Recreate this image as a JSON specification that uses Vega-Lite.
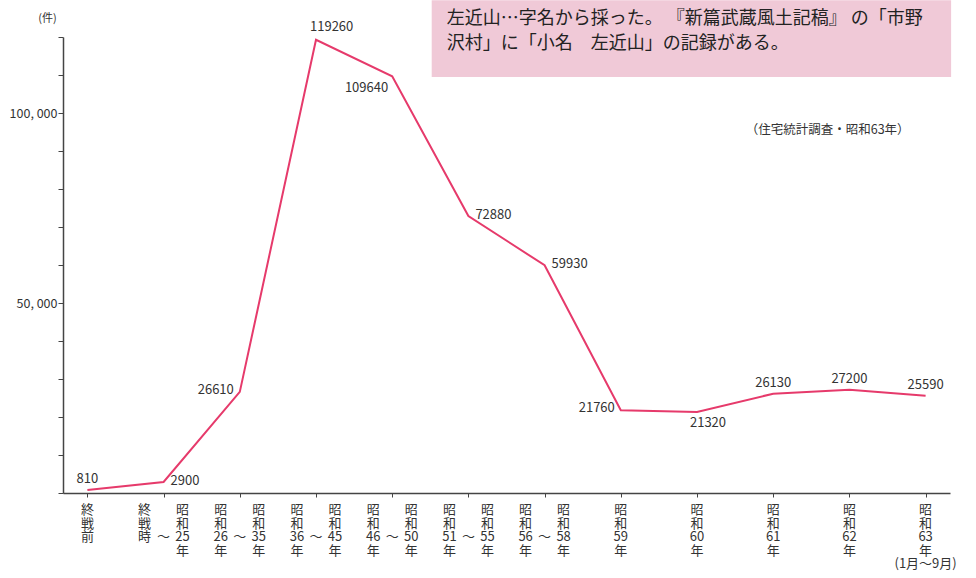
{
  "$schema": "https://vega.github.io/schema/vega-lite/v6.json",
  "autosize": {"type": "none"},
  "padding": {"left": 63, "top": 37, "right": 26, "bottom": 85},
  "width": 887,
  "height": 456,
  "background": "white",
  "config": {
    "view": {"stroke": null},
    "font": "Noto Sans CJK JP",
    "axisY": {
      "titleFontSize": 11,
      "titleFontWeight": "normal",
      "titleColor": "#333",
      "labelFontSize": 12.5,
      "labelColor": "#333",
      "labelPadding": 1,
      "tickSize": 5,
      "tickColor": "#444",
      "domainColor": "#444",
      "domainWidth": 1.5,
      "grid": false
    }
  },
  "data": {
    "values": [
      {"period": "終戦前", "count": 810, "label": "810", "center": ["終", "戦", "前"]},
      {"period": "終戦時〜昭和25年", "count": 2900, "label": "2900", "left": ["終", "戦", "時"], "right": ["昭", "和", "25", "年"]},
      {"period": "昭和26年〜昭和35年", "count": 26610, "label": "26610", "left": ["昭", "和", "26", "年"], "right": ["昭", "和", "35", "年"]},
      {"period": "昭和36年〜昭和45年", "count": 119260, "label": "119260", "left": ["昭", "和", "36", "年"], "right": ["昭", "和", "45", "年"]},
      {"period": "昭和46年〜昭和50年", "count": 109640, "label": "109640", "left": ["昭", "和", "46", "年"], "right": ["昭", "和", "50", "年"]},
      {"period": "昭和51年〜昭和55年", "count": 72880, "label": "72880", "left": ["昭", "和", "51", "年"], "right": ["昭", "和", "55", "年"]},
      {"period": "昭和56年〜昭和58年", "count": 59930, "label": "59930", "left": ["昭", "和", "56", "年"], "right": ["昭", "和", "58", "年"]},
      {"period": "昭和59年", "count": 21760, "label": "21760", "center": ["昭", "和", "59", "年"]},
      {"period": "昭和60年", "count": 21320, "label": "21320", "center": ["昭", "和", "60", "年"]},
      {"period": "昭和61年", "count": 26130, "label": "26130", "center": ["昭", "和", "61", "年"]},
      {"period": "昭和62年", "count": 27200, "label": "27200", "center": ["昭", "和", "62", "年"]},
      {"period": "昭和63年", "count": 25590, "label": "25590", "center": ["昭", "和", "63", "年", "(1月〜9月)"]}
    ]
  },
  "encoding": {
    "x": {
      "field": "period",
      "type": "nominal",
      "sort": null,
      "scale": {"type": "point", "padding": 0.32},
      "axis": {
        "title": null,
        "labels": false,
        "tickSize": 4,
        "tickColor": "#444",
        "domainColor": "#444",
        "domainWidth": 1.5,
        "grid": false
      }
    },
    "y": {
      "field": "count",
      "type": "quantitative",
      "scale": {"domain": [0, 120000], "nice": false},
      "axis": {
        "title": "(件)",
        "titleAngle": 0,
        "titleAlign": "center",
        "titleBaseline": "middle",
        "titleX": -16,
        "titleY": -19,
        "values": [0, 10000, 20000, 30000, 40000, 50000, 60000, 70000, 80000, 90000, 100000, 110000, 120000],
        "labelExpr": "datum.value == 50000 ? '50, 000' : datum.value == 100000 ? '100, 000' : ''",
        "labelOverlap": false
      }
    }
  },
  "layer": [
    {
      "mark": {"type": "line", "color": "#e63a6b", "strokeWidth": 2}
    },
    {
      "transform": [{"filter": "indexof(['810','26130','27200','25590'], datum.label) >= 0"}],
      "mark": {"type": "text", "align": "center", "baseline": "middle", "dy": -11, "fontSize": 13, "color": "#333"},
      "encoding": {"text": {"field": "label"}}
    },
    {
      "transform": [{"filter": "indexof(['2900','72880','59930'], datum.label) >= 0"}],
      "mark": {"type": "text", "align": "left", "baseline": "middle", "dx": 7, "dy": -1, "fontSize": 13, "color": "#333"},
      "encoding": {"text": {"field": "label"}}
    },
    {
      "transform": [{"filter": "indexof(['26610','21760'], datum.label) >= 0"}],
      "mark": {"type": "text", "align": "right", "baseline": "middle", "dx": -6, "dy": -2, "fontSize": 13, "color": "#333"},
      "encoding": {"text": {"field": "label"}}
    },
    {
      "transform": [{"filter": "datum.label == '119260'"}],
      "mark": {"type": "text", "align": "left", "baseline": "middle", "dx": -6, "dy": -13, "fontSize": 13, "color": "#333"},
      "encoding": {"text": {"field": "label"}}
    },
    {
      "transform": [{"filter": "datum.label == '109640'"}],
      "mark": {"type": "text", "align": "right", "baseline": "middle", "dx": -4, "dy": 12, "fontSize": 13, "color": "#333"},
      "encoding": {"text": {"field": "label"}}
    },
    {
      "transform": [{"filter": "datum.label == '21320'"}],
      "mark": {"type": "text", "align": "center", "baseline": "middle", "dx": 11, "dy": 11, "fontSize": 13, "color": "#333"},
      "encoding": {"text": {"field": "label"}}
    },
    {
      "transform": [{"filter": "isValid(datum.center)"}],
      "mark": {"type": "text", "align": "center", "baseline": "top", "dy": 11, "fontSize": 13, "lineHeight": 13.5, "color": "#333"},
      "encoding": {"y": {"value": "height"}, "text": {"field": "center"}}
    },
    {
      "transform": [{"filter": "isValid(datum.left)"}],
      "mark": {"type": "text", "align": "center", "baseline": "top", "dx": -19, "dy": 11, "fontSize": 13, "lineHeight": 13.5, "color": "#333"},
      "encoding": {"y": {"value": "height"}, "text": {"field": "left"}}
    },
    {
      "transform": [{"filter": "isValid(datum.right)"}],
      "mark": {"type": "text", "align": "center", "baseline": "top", "dx": 19, "dy": 11, "fontSize": 13, "lineHeight": 13.5, "color": "#333"},
      "encoding": {"y": {"value": "height"}, "text": {"field": "right"}}
    },
    {
      "transform": [{"filter": "isValid(datum.left)"}],
      "mark": {"type": "text", "align": "center", "baseline": "top", "dy": 38, "fontSize": 13, "color": "#333", "text": "〜"},
      "encoding": {"y": {"value": "height"}}
    },
    {
      "data": {"values": [{"period": "昭和46年〜昭和50年", "end": "昭和63年", "count": 129700, "bottom": 109500}]},
      "mark": {"type": "rect", "color": "#f0c9d7", "xOffset": 39.5, "x2Offset": 25.5},
      "encoding": {
        "x2": {"field": "end"},
        "y2": {"field": "bottom"}
      }
    },
    {
      "data": {"values": [{"period": "昭和46年〜昭和50年", "count": 127100, "lines": ["左近山…字名から採った。 『新篇武蔵風土記稿』 の「市野", "沢村」に「小名　左近山」の記録がある。"]}]},
      "mark": {"type": "text", "align": "left", "baseline": "top", "dx": 54.5, "fontSize": 18, "lineHeight": 25, "color": "#222"},
      "encoding": {"text": {"field": "lines"}}
    },
    {
      "data": {"values": [{"period": "昭和63年", "count": 95500, "source": "（住宅統計調査・昭和63年）"}]},
      "mark": {"type": "text", "align": "right", "baseline": "middle", "dx": -16, "fontSize": 12.5, "color": "#333"},
      "encoding": {"text": {"field": "source"}}
    }
  ]
}
